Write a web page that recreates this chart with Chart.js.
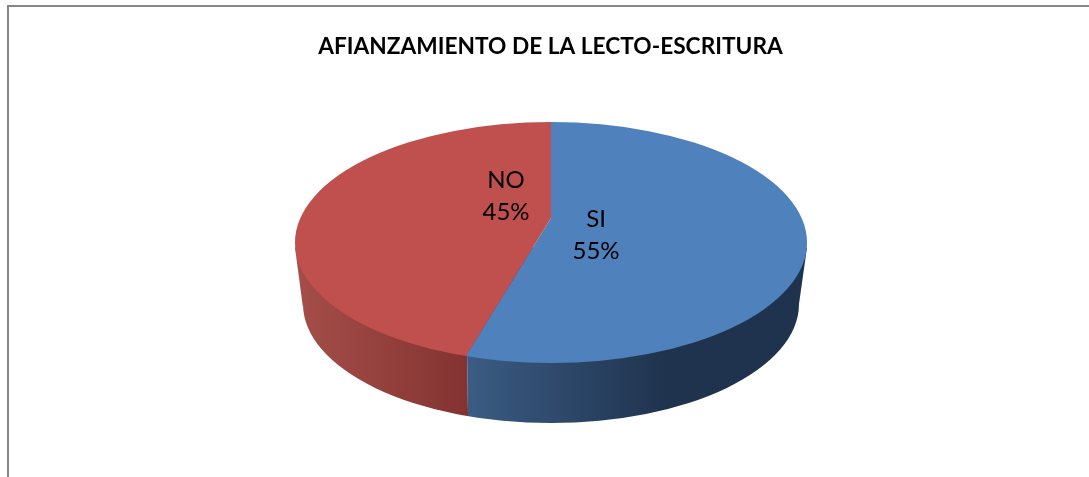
<!DOCTYPE html>
<html>
<head>
<meta charset="utf-8">
<style>html,body{margin:0;padding:0;background:#fff}canvas{display:block}</style>
<script src="https://cdn.jsdelivr.net/npm/chart.js@4"></script>
</head>
<body>
<canvas id="c" width="1089" height="477"></canvas>
<script>
const titleText = 'AFIANZAMIENTO DE LA LECTO-ESCRITURA';
const categories = ['SI', 'NO'];
const values = [55, 45];
const topColors = ['#4F81BD', '#C0504D'];

// Picture geometry of the tilted pie
const rim = {cx: 551, cy: 242.5, rx: 256, ry: 120.5};
const base = {cy: 304, rx: 248, ry: 119};
const apex = {x: 551, y: 218, sx: 1.3, sy: 0.686};
const labelOffset = [{x: 45, y: -7.5}, {x: -45, y: -46.5}];

function rimPoint(angle) {
  const dx = apex.sx * Math.cos(angle), dy = apex.sy * Math.sin(angle);
  const oy = apex.y - rim.cy;
  const A = dx*dx/(rim.rx*rim.rx) + dy*dy/(rim.ry*rim.ry);
  const B = 2*oy*dy/(rim.ry*rim.ry);
  const C = oy*oy/(rim.ry*rim.ry) - 1;
  const t = (-B + Math.sqrt(B*B - 4*A*C)) / (2*A);
  return {x: apex.x + t*dx, y: apex.y + t*dy};
}

function wallPath(ctx) {
  ctx.beginPath();
  ctx.moveTo(rim.cx - rim.rx, rim.cy + 5);
  ctx.lineTo(rim.cx - base.rx, base.cy + 4);
  ctx.ellipse(rim.cx, base.cy, base.rx, base.ry, 0, Math.PI, 0, true);
  ctx.lineTo(rim.cx + rim.rx, rim.cy + 5);
  ctx.closePath();
}

const pie3d = {
  id: 'pie3d',
  beforeDraw(chart) {
    const ctx = chart.ctx;
    ctx.save();
    ctx.fillStyle = '#868686';
    ctx.fillRect(7, 5, 2, 472);
    ctx.fillRect(7, 5, 1082, 2);
    ctx.restore();
  },
  beforeDatasetsDraw(chart) {
    const ctx = chart.ctx;
    const arcs = chart.getDatasetMeta(0).data;
    const split = rimPoint(arcs[0].endAngle);

    // Red wall
    ctx.save();
    ctx.beginPath();
    ctx.moveTo(0, 0); ctx.lineTo(split.x - 4, 0); ctx.lineTo(split.x + 3, 477); ctx.lineTo(0, 477); ctx.closePath();
    ctx.clip();
    let g = ctx.createLinearGradient(296, 0, split.x, 0);
    g.addColorStop(0, '#A54E49');
    g.addColorStop(1, '#843332');
    ctx.fillStyle = g;
    wallPath(ctx); ctx.fill();
    ctx.restore();

    // Blue wall
    ctx.save();
    ctx.beginPath();
    ctx.moveTo(1089, 0); ctx.lineTo(split.x - 4, 0); ctx.lineTo(split.x + 3, 477); ctx.lineTo(1089, 477); ctx.closePath();
    ctx.clip();
    g = ctx.createLinearGradient(split.x, 0, 665, 0);
    g.addColorStop(0, '#3B5C84');
    g.addColorStop(1, '#1F334E');
    ctx.fillStyle = g;
    wallPath(ctx); ctx.fill();
    ctx.restore();

    // Top face: the library's arcs, tilted and trimmed to the rim ellipse
    ctx.save();
    ctx.beginPath();
    ctx.ellipse(rim.cx, rim.cy, rim.rx, rim.ry, 0, 0, Math.PI * 2);
    ctx.clip();
    arcs.forEach(a => {
      ctx.save();
      ctx.translate(apex.x, apex.y);
      ctx.scale(apex.sx, apex.sy);
      ctx.translate(-a.x, -a.y);
      a.draw(ctx);
      ctx.restore();
    });
    ctx.restore();
    return false;
  },
  afterDraw(chart) {
    const ctx = chart.ctx;
    const total = values.reduce((s, v) => s + v, 0);
    ctx.save();
    ctx.fillStyle = '#000';
    ctx.font = '24px Lato';
    ctx.textAlign = 'center';
    ctx.textBaseline = 'middle';
    values.forEach((v, i) => {
      const x = rim.cx + labelOffset[i].x, y = rim.cy + labelOffset[i].y;
      ctx.fillText(categories[i], x, y - 16);
      ctx.fillText(Math.round(v / total * 100) + '%', x, y + 16);
    });
    ctx.restore();
  }
};

new Chart(document.getElementById('c'), {
  type: 'pie',
  data: {
    labels: categories,
    datasets: [{data: values, backgroundColor: topColors, borderWidth: 0, hoverOffset: 0}]
  },
  options: {
    responsive: false,
    animation: false,
    radius: 256,
    layout: {padding: {left: 12, top: 0}},
    plugins: {
      legend: {display: false},
      tooltip: {enabled: false},
      title: {
        display: true,
        text: titleText,
        color: '#000',
        font: {family: 'Lato', size: 22.7, weight: 'bold'},
        padding: {top: 33.5, bottom: 10}
      }
    }
  },
  plugins: [pie3d]
});
</script>
</body>
</html>
